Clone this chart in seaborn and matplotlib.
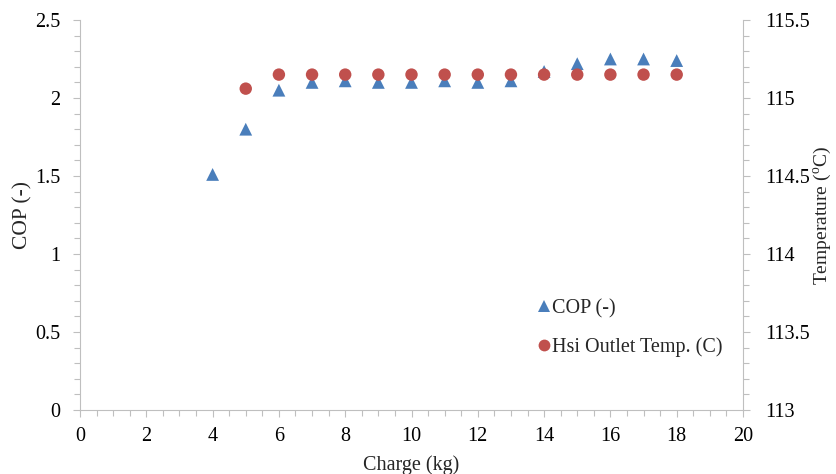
import matplotlib
matplotlib.use("Agg")
import matplotlib.pyplot as plt
from matplotlib.ticker import MultipleLocator, FuncFormatter
from matplotlib.lines import Line2D
import seaborn as sns
import pandas as pd

charge_cop = [4, 5, 6, 7, 8, 9, 10, 11, 12, 13, 14, 15, 16, 17, 18]
cop = [1.51, 1.80, 2.05, 2.10, 2.11, 2.10, 2.10, 2.11, 2.10, 2.11, 2.17, 2.22, 2.25, 2.25, 2.24]
charge_temp = [5, 6, 7, 8, 9, 10, 11, 12, 13, 14, 15, 16, 17, 18]
temp = [115.06, 115.15, 115.15, 115.15, 115.15, 115.15, 115.15, 115.15, 115.15, 115.15, 115.15, 115.15, 115.15, 115.15]

sns.set_style("white")
plt.rcParams['font.family'] = ['Liberation Serif', 'DejaVu Serif']
plt.rcParams['mathtext.fontset'] = 'custom'
plt.rcParams['mathtext.rm'] = 'Liberation Serif'

blue = "#4A7EBB"
red = "#C0504D"
grey = "#BFBFBF"
FS = 14.5

fig = plt.figure(figsize=(8.37, 4.74), dpi=100)
ax = fig.add_axes([80/837, 1-410/474, (743-80)/837, (410-20)/474])
ax2 = ax.twinx()

df1 = pd.DataFrame({"x": charge_cop, "y": cop})
df2 = pd.DataFrame({"x": charge_temp, "y": temp})
sns.scatterplot(data=df1, x="x", y="y", ax=ax, marker="^", color=blue, s=85, edgecolor="none", legend=False, zorder=3)
sns.scatterplot(data=df2, x="x", y="y", ax=ax2, marker="o", color=red, s=80, edgecolor="none", legend=False, zorder=3)

ax.set_xlim(0, 20)
ax.set_ylim(0, 2.5)
ax2.set_ylim(113, 115.5)
ax.xaxis.set_major_locator(MultipleLocator(2))
ax.xaxis.set_minor_locator(MultipleLocator(0.5))
ax.yaxis.set_major_locator(MultipleLocator(0.5))
ax.yaxis.set_minor_locator(MultipleLocator(0.1))
ax2.yaxis.set_minor_locator(MultipleLocator(0.1))
ax2.set_yticks([113, 113.5, 114, 114.5, 115, 115.5])
ax2.set_yticklabels(["113", "113.5", "114", "114.5", "115", "115.5"])
ax.yaxis.set_major_formatter(FuncFormatter(lambda v, p: f"{v:g}"))

for a in (ax, ax2):
    for s in a.spines.values():
        s.set_color(grey)
        s.set_linewidth(0.8)
    a.spines['top'].set_visible(False)
ax.spines['right'].set_visible(False)
ax2.spines['left'].set_visible(False)
ax2.spines['bottom'].set_visible(False)

ax.tick_params(axis='both', which='both', direction='out', color=grey, labelsize=FS, labelcolor='black', width=0.8)
ax.tick_params(which='major', length=5)
ax.tick_params(which='minor', length=4)
ax.tick_params(axis='x', which='major', pad=7)
ax.tick_params(axis='y', which='major', pad=9)
ax.tick_params(axis='x', which='both', bottom=True)
ax.tick_params(axis='y', which='both', left=True)
ax2.tick_params(axis='y', which='both', direction='out', color=grey, labelsize=FS, labelcolor='black', right=True, width=0.8)
ax2.tick_params(which='major', length=5, pad=11)
ax2.tick_params(which='minor', length=4)

ax.set_xlabel("Charge (kg)", fontsize=FS, labelpad=7)
ax.set_ylabel("COP (-)", fontsize=15.5, labelpad=2)
ax2.set_ylabel(r"Temperature ($^{\mathrm{o}}$C)", fontsize=14, labelpad=1)

handles = [
    Line2D([], [], marker="^", color=blue, linestyle="none", markersize=9, markeredgewidth=0),
    Line2D([], [], marker="o", color=red, linestyle="none", markersize=8.5, markeredgewidth=0),
]
ax.legend(handles, ["COP (-)", "Hsi Outlet Temp. (C)"], loc="lower left",
          bbox_to_anchor=(0.666, 0.11), frameon=False, fontsize=FS,
          handletextpad=-0.2, labelspacing=0.95, handlelength=1.2, borderpad=0)

fig.savefig("out.png", dpi=100)
